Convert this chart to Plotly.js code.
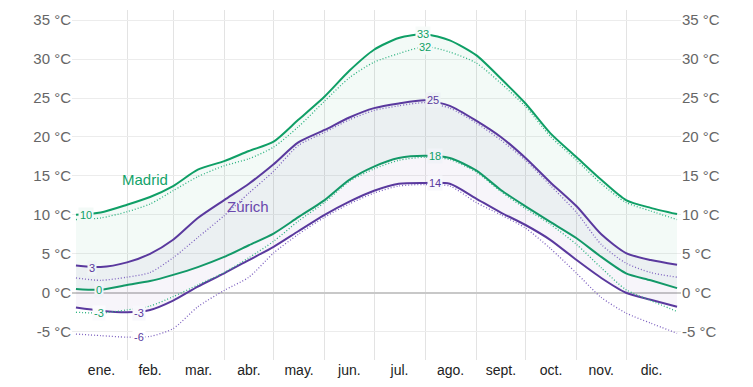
<!DOCTYPE html>
<html>
<head>
<meta charset="utf-8">
<script src="https://cdn.plot.ly/plotly-3.0.1.min.js"></script>
<style>html,body{margin:0;padding:0;background:#fff;}#chart{width:753px;height:387px;}</style>
</head>
<body>
<div id="chart"></div>
<script>
// Day of year samples
const days = [0,15,31,45,59,74,90,105,120,135,151,166,181,196,212,227,243,258,273,288,304,319,334,349,365];

// Madrid (°C)
const madridHigh     = [10.0,10.3,11.3,12.3,13.7,15.8,16.9,18.2,19.4,22.2,25.2,28.5,31.2,32.7,33.2,32.4,30.5,27.5,24.3,20.5,17.4,14.5,11.9,10.9,10.1];
const madridHighFeel = [9.4,9.6,10.4,11.4,13.1,14.9,16.3,17.2,18.7,21.3,24.6,27.6,29.6,30.7,31.6,30.9,29.5,26.9,23.9,20.1,17.0,14.0,11.6,10.5,9.4];
const madridLow      = [0.5,0.4,1.0,1.5,2.3,3.3,4.6,6.1,7.6,9.7,11.9,14.5,16.2,17.3,17.6,17.3,15.7,13.2,11.1,9.1,7.0,4.6,2.5,1.6,0.6];
const madridLowFeel  = [-2.5,-2.6,-2.2,-1.7,-0.5,1.0,2.6,4.5,6.6,9.2,11.6,14.3,15.9,17.0,17.4,17.1,15.5,13.0,10.8,8.8,6.2,3.2,0.4,-1.0,-2.4];

// Zürich (°C)
const zurichHigh     = [3.5,3.3,3.9,5.0,6.8,9.6,11.9,14.0,16.5,19.3,20.9,22.5,23.7,24.3,24.7,24.0,22.1,20.0,17.3,14.2,11.1,7.5,5.1,4.2,3.6];
const zurichHighFeel = [1.9,1.6,2.0,2.6,4.5,7.1,9.9,12.8,15.6,18.9,20.6,22.2,23.4,24.0,24.4,23.7,21.8,19.6,17.0,13.8,10.3,6.2,3.8,2.6,2.0];
const zurichLow      = [-1.9,-2.3,-2.5,-2.2,-1.0,0.8,2.5,4.2,5.9,7.9,10.0,11.7,13.1,14.0,14.1,14.0,12.1,10.3,8.7,6.8,4.2,1.9,0.0,-0.9,-1.8];
const zurichLowFeel  = [-5.3,-5.5,-5.7,-5.6,-4.6,-1.8,0.3,2.0,5.1,7.5,9.7,11.4,12.8,13.7,13.9,13.7,11.6,10.0,8.3,5.7,2.5,-0.6,-2.6,-3.9,-5.2];

// Labelled extremes
const labelDays   = [211, 212, 217, 218, 218, 6, 14, 10, 14, 38, 38];
const labelValues = [33.2, 31.6, 24.7, 17.6, 14.1, 10.0, 0.4, 3.2, -2.6, -2.6, -5.7];
const labelTexts  = ['33','32','25','18','14','10','0','3','-3','-3','-6'];
const labelCity   = ['M','M','Z','M','Z','M','M','Z','M','Z','Z'];

// Month axis
const monthNames = ['ene.','feb.','mar.','abr.','may.','jun.','jul.','ago.','sept.','oct.','nov.','dic.'];
const monthDays  = [31,28,31,30,31,30,31,31,30,31,30,31];

// Y ticks
const yTicks = [-5,0,5,10,15,20,25,30,35];

const GREEN = '#0f9f66', GREEN_D = '#2fb482';
const PURPLE = '#5a399e', PURPLE_D = '#7e62c0';

const monthStarts = [], monthMids = [];
let acc = 0;
monthDays.forEach(d => { monthStarts.push(acc); monthMids.push(acc + d/2); acc += d; });
monthStarts.push(acc);

const solid = (y, color, extra) => Object.assign({x: days, y: y, type: 'scatter', mode: 'lines',
  line: {color: color, width: 2, shape: 'spline', smoothing: 0.7}, hoverinfo: 'skip', showlegend: false}, extra||{});
const dotted = (y, color) => ({x: days, y: y, type: 'scatter', mode: 'lines',
  line: {color: color, width: 1.3, dash: '1px,2px', shape: 'spline', smoothing: 0.7}, hoverinfo: 'skip', showlegend: false});

const traces = [
  solid(madridLow, GREEN),
  solid(madridHigh, GREEN, {fill: 'tonexty', fillcolor: 'rgba(15,159,102,0.05)'}),
  solid(zurichLow, PURPLE),
  solid(zurichHigh, PURPLE, {fill: 'tonexty', fillcolor: 'rgba(90,57,158,0.05)'}),
  dotted(madridHighFeel, GREEN_D),
  dotted(madridLowFeel, GREEN_D),
  dotted(zurichHighFeel, PURPLE_D),
  dotted(zurichLowFeel, PURPLE_D),
  {x: [days[0]], y: [madridHigh[0]], yaxis: 'y2', type: 'scatter', mode: 'markers', marker: {opacity: 0}, hoverinfo: 'skip', showlegend: false}
];

const bgs = ['#f7fbf9','#f3faf7','#eef2f5','#f1f3f8','#f8f8fc','#f3faf7','#f1f3f8','#f0f5f6','#fbfbfd','#f8f8fc','#ffffff'];
const annotations = labelDays.map((d, i) => ({
  x: d, y: labelValues[i], xref: 'x', yref: 'y', text: labelTexts[i], showarrow: false,
  font: {family: 'Liberation Sans, Arial, sans-serif', size: 11, color: labelCity[i] === 'M' ? GREEN : PURPLE},
  bgcolor: bgs[i], borderpad: 1, xanchor: 'center', yanchor: 'middle'
}));
annotations.push({x: 42, y: 14.5, xref: 'x', yref: 'y', text: 'Madrid', showarrow: false,
  font: {family: 'Liberation Sans, Arial, sans-serif', size: 15, color: '#13a36a'}, xanchor: 'center', yanchor: 'middle'});
annotations.push({x: 104.5, y: 11.1, xref: 'x', yref: 'y', text: 'Zúrich', showarrow: false,
  font: {family: 'Liberation Sans, Arial, sans-serif', size: 15, color: '#6a48ad'}, xanchor: 'center', yanchor: 'middle'});

const yRange = [-8.63, 36.3];
const yCommon = {
  range: yRange, tickmode: 'array', tickvals: yTicks, ticktext: yTicks.map(v => v + ' °C'),
  tickfont: {family: 'Liberation Sans, Arial, sans-serif', size: 15, color: '#666'},
  ticks: '', fixedrange: true
};

const layout = {
  width: 753, height: 387,
  margin: {l: 72, r: 72, t: 10, b: 27, pad: 0},
  paper_bgcolor: '#fff', plot_bgcolor: '#fff',
  showlegend: false, hovermode: false,
  xaxis: {
    range: [-2.4, 367.4], tickmode: 'array', tickvals: monthMids, ticktext: monthNames,
    showgrid: false, zeroline: false, ticks: '', showline: false,
    tickfont: {family: 'Liberation Sans, Arial, sans-serif', size: 14, color: '#222'},
    minor: {tickmode: 'array', tickvals: monthStarts.slice(1, 12), showgrid: true, gridcolor: '#e3e3e3', gridwidth: 1, ticks: ''},
    fixedrange: true
  },
  yaxis: Object.assign({}, yCommon, {side: 'left', showgrid: true, gridcolor: '#ececec', gridwidth: 1,
    zeroline: true, zerolinecolor: '#c8c8c8', zerolinewidth: 2}),
  yaxis2: Object.assign({}, yCommon, {side: 'right', overlaying: 'y', showgrid: false, zeroline: false}),
  annotations: annotations
};

Plotly.newPlot('chart', traces, layout, {displayModeBar: false, staticPlot: true});
</script>
</body>
</html>
